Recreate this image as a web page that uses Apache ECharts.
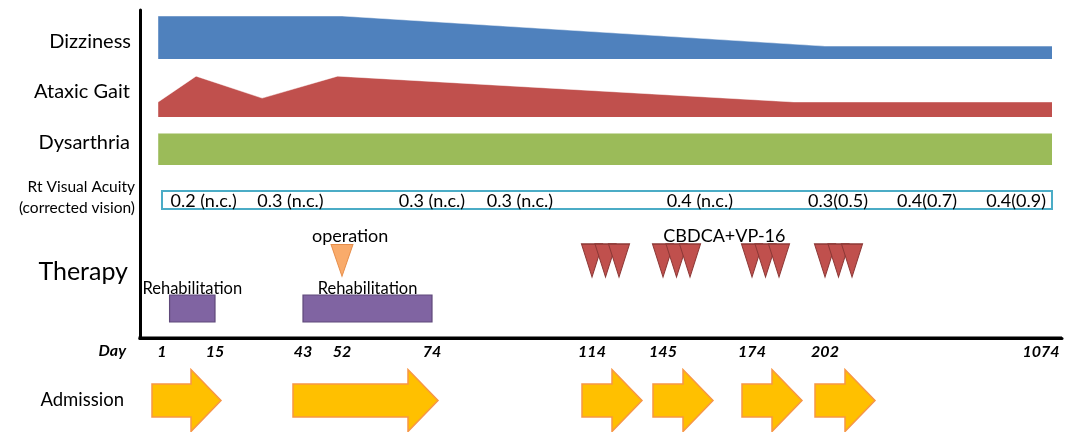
<!DOCTYPE html>
<html><head><meta charset="utf-8">
<script src="https://cdn.jsdelivr.net/npm/echarts@6/dist/echarts.min.js"></script>
<style>html,body{margin:0;padding:0;background:#fff}#c{width:1066px;height:432px}</style>
</head><body><div id="c"></div>
<script>
// ---------------- data ----------------
const tickDays = [1, 15, 43, 52, 74, 114, 145, 174, 202, 1074];
const dizzinessDays = [0, 52, 202, 1074];
const dizzinessValues = [10, 10, 3, 3];
const ataxicDays = [0, 10, 30, 51, 190, 1074];
const ataxicValues = [3.5, 9.5, 4.4, 9.5, 3.5, 3.5];
const dysarthriaDays = [0, 1074];
const dysarthriaValues = [7.4, 7.4];
const vaRange = [1, 1074];
const vaDays = [12, 39, 74, 96, 157, 252, 594, 936];
const vaTexts = ['0.2 (n.c.)', '0.3 (n.c.)', '0.3 (n.c.)', '0.3 (n.c.)', '0.4 (n.c.)', '0.3(0.5)', '0.4(0.7)', '0.4(0.9)'];
const operationDays = [52];
const chemoCycleDays = [114, 145, 174, 202];
const dosesPerCycle = 3;
const rehabStart = [3, 43];
const rehabEnd = [15, 74];
const admissionStart = [1, 43, 114, 145, 174, 202];
const admissionEnd = [15, 74, null, null, null, null];
const therapyNotes = [{ text: 'operation', day: 54 }, { text: 'CBDCA+VP-16', day: 165 }];
const rowNames = ['Dizziness', 'Ataxic Gait', 'Dysarthria', 'Rt Visual Acuity', '(corrected vision)', 'Therapy', 'Admission'];
const axisName = 'Day';

// ---------------- layout ----------------
const FONT = 'Lato';
const GL = 140, GW = 922;
const tickSlots = [22, 75, 163, 202, 292, 452, 523, 612, 685, 912];
function dayToSlot(d) {
  const n = tickDays.length;
  let i = 0;
  if (d >= tickDays[n - 1]) i = n - 2;
  else if (d > tickDays[0]) { while (d > tickDays[i + 1]) i++; }
  const t = (d - tickDays[i]) / (tickDays[i + 1] - tickDays[i]);
  return tickSlots[i] + t * (tickSlots[i + 1] - tickSlots[i]);
}
const grids = [
  { top: 10, height: 328 },   // 0 main frame
  { top: 16, height: 43 },    // 1 dizziness
  { top: 74, height: 43 },    // 2 ataxic gait
  { top: 122, height: 43 },   // 3 dysarthria
  { top: 191, height: 18 },   // 4 visual acuity
  { top: 244, height: 78 },   // 5 therapy
  { top: 369, height: 63 }    // 6 admission
].map(g => Object.assign({ left: GL, width: GW, containLabel: false }, g));
const rowLabelPos = [[131, 42, 20], [130, 92, 20], [130, 143, 20], [135, 187, 15.5], [135, 208, 15.5], [128, 272, 25], [124, 400, 18.5]];
const TRI_Y = 16.5, BAR_Y0 = 51, BAR_Y1 = 78, ARROW_Y = 31.5;
const FRAME_W = 3;

const dayLabelStyle = { fontFamily: FONT, fontWeight: 'bold', fontStyle: 'italic', fontSize: 16, color: '#000' };
const xAxes = grids.map((g, i) => ({
  type: 'value', gridIndex: i, min: 0, max: GW, position: 'bottom',
  axisLine: i === 0 ? { show: true, onZero: false, lineStyle: { color: '#000', width: FRAME_W } } : { show: false },
  axisTick: { show: false }, splitLine: { show: false },
  axisLabel: i === 0 ? {
    show: true, customValues: tickSlots, margin: 6, hideOverlap: false,
    formatter: v => {
      const k = tickSlots.indexOf(v);
      if (k < 0) return '';
      return (k === tickSlots.length - 1 ? '{r|' : '{n|') + tickDays[k] + '}';
    },
    rich: { n: dayLabelStyle, r: Object.assign({ padding: [0, 22, 0, 0] }, dayLabelStyle) }
  } : { show: false }
}));
const yMax = [1, 10, 10, 10, 1, 78, 63];
const yAxes = grids.map((g, i) => ({
  type: 'value', gridIndex: i, min: 0, max: yMax[i], inverse: i >= 5, position: 'left',
  axisLine: i === 0 ? { show: true, lineStyle: { color: '#000', width: FRAME_W } } : { show: false },
  axisTick: { show: false }, splitLine: { show: false }, axisLabel: { show: false }
}));

function band(days, vals, idx, color) {
  return {
    type: 'line', xAxisIndex: idx, yAxisIndex: idx, symbol: 'none', silent: true,
    data: days.map((d, i) => [dayToSlot(d), vals[i]]),
    lineStyle: { width: 0.8, color: 'rgba(255,255,255,0.6)' },
    areaStyle: { color: color, opacity: 1 }
  };
}

const series = [
  { // time-axis baseline along the bottom of the frame (axis extent)
    type: 'custom', xAxisIndex: 0, yAxisIndex: 0, silent: true, clip: false, z: 50,
    data: [[0, GW]],
    renderItem: (p, api) => {
      const a = api.coord([api.value(0), 0]), b = api.coord([api.value(1), 0]);
      return { type: 'rect', shape: { x: a[0] - FRAME_W / 2, y: a[1] - FRAME_W / 2, width: b[0] - a[0] + FRAME_W / 2, height: FRAME_W },
        style: { fill: '#000' } };
    }
  },
  band(dizzinessDays, dizzinessValues, 1, '#4F81BD'),
  band(ataxicDays, ataxicValues, 2, '#C0504D'),
  band(dysarthriaDays, dysarthriaValues, 3, '#9BBB59'),
  { // visual acuity box
    type: 'custom', xAxisIndex: 4, yAxisIndex: 4, silent: true,
    data: [[dayToSlot(vaRange[0]), dayToSlot(vaRange[1])]],
    renderItem: (p, api) => {
      const a = api.coord([api.value(0), 1]), b = api.coord([api.value(1), 0]);
      return { type: 'rect', shape: { x: a[0], y: a[1], width: b[0] - a[0], height: b[1] - a[1] },
        style: { fill: 'none', stroke: '#4BACC6', lineWidth: 2 } };
    }
  },
  { // visual acuity values
    type: 'custom', xAxisIndex: 4, yAxisIndex: 4, silent: true,
    data: vaDays.map((d, i) => [dayToSlot(d), 0.5, i]),
    renderItem: (p, api) => {
      const c = api.coord([api.value(0), api.value(1)]);
      return { type: 'text', x: c[0], y: c[1] + 1,
        style: { text: vaTexts[api.value(2)], align: 'center', verticalAlign: 'middle', font: '18px ' + FONT, fill: '#000' } };
    }
  },
  { // rehabilitation bars
    type: 'custom', xAxisIndex: 5, yAxisIndex: 5, silent: true,
    data: rehabStart.map((s, i) => [dayToSlot(s), dayToSlot(rehabEnd[i])]),
    renderItem: (p, api) => {
      const a = api.coord([api.value(0), BAR_Y0]), b = api.coord([api.value(1), BAR_Y1]);
      return { type: 'group', children: [
        { type: 'rect', shape: { x: a[0], y: a[1], width: b[0] - a[0], height: b[1] - a[1] },
          style: { fill: '#8064A2', stroke: '#5F497A', lineWidth: 1.2 } },
        { type: 'text', x: (a[0] + b[0]) / 2, y: a[1] + 2,
          style: { text: 'Rehabilitation', align: 'center', verticalAlign: 'bottom', font: '16.5px ' + FONT, fill: '#000' } }
      ] };
    }
  },
  { // operation
    type: 'scatter', xAxisIndex: 5, yAxisIndex: 5, silent: true,
    symbol: 'triangle', symbolRotate: 180, symbolSize: [22, 32],
    itemStyle: { color: '#F79646', borderColor: '#E07A2E', borderWidth: 1 },
    data: operationDays.map(d => [dayToSlot(d), TRI_Y])
  },
  { // chemotherapy doses
    type: 'scatter', xAxisIndex: 5, yAxisIndex: 5, silent: true,
    symbol: 'triangle', symbolRotate: 180, symbolSize: [21, 33],
    itemStyle: { color: '#C0504D', borderColor: '#8C3836', borderWidth: 1.2, opacity: 1 },
    data: chemoCycleDays.flatMap(d => Array.from({ length: dosesPerCycle }, (_, k) => ({
      value: [dayToSlot(d), TRI_Y], symbolOffset: [k * 13.5, 0]
    })))
  },
  { // therapy notes
    type: 'custom', xAxisIndex: 5, yAxisIndex: 5, silent: true,
    data: therapyNotes.map((n, i) => [dayToSlot(n.day), 0, i]),
    renderItem: (p, api) => {
      const c = api.coord([api.value(0), api.value(1)]);
      return { type: 'text', x: c[0], y: c[1] + 1,
        style: { text: therapyNotes[api.value(2)].text, align: 'center', verticalAlign: 'bottom', font: '18px ' + FONT, fill: '#000' } };
    }
  },
  { // admission arrows
    type: 'custom', xAxisIndex: 6, yAxisIndex: 6, silent: true,
    data: admissionStart.map((s, i) => [dayToSlot(s), admissionEnd[i] == null ? -1 : dayToSlot(admissionEnd[i])]),
    renderItem: (p, api) => {
      const a = api.coord([api.value(0), ARROW_Y]);
      const x0 = a[0] - 10;
      const x1 = api.value(1) < 0 ? x0 + 60 : api.coord([api.value(1), ARROW_Y])[0] + 6;
      const cy = a[1], hl = 30, bh = 16.5, hh = 31;
      return { type: 'polygon', shape: { points: [[x0, cy - bh], [x1 - hl, cy - bh], [x1 - hl, cy - hh], [x1, cy], [x1 - hl, cy + hh], [x1 - hl, cy + bh], [x0, cy + bh]] },
        style: { fill: '#FFC000', stroke: '#F79646', lineWidth: 1.5 } };
    }
  }
];

const graphic = rowNames.map((t, i) => ({
  type: 'text', x: rowLabelPos[i][0], y: rowLabelPos[i][1], silent: true,
  style: { text: t, align: 'right', verticalAlign: 'middle', font: rowLabelPos[i][2] + 'px ' + FONT, fill: '#000' }
}));
graphic.push({
  type: 'text', x: 126, y: 351, silent: true,
  style: { text: axisName, align: 'right', verticalAlign: 'middle', font: 'italic bold 16px ' + FONT, fill: '#000' }
});

const chart = echarts.init(document.getElementById('c'), null, { renderer: 'canvas' });
chart.setOption({
  animation: false,
  backgroundColor: '#fff',
  grid: grids, xAxis: xAxes, yAxis: yAxes, series: series, graphic: graphic
});
</script></body></html>
